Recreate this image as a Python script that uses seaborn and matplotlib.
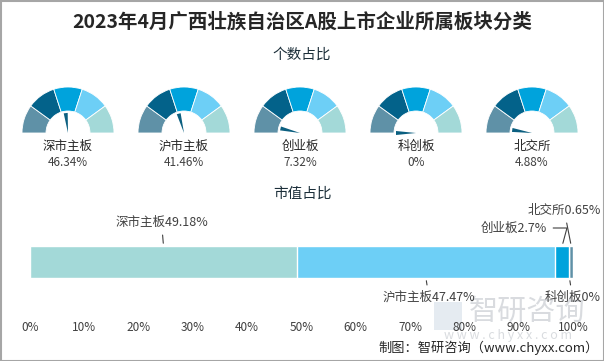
import numpy as np
import pandas as pd
import matplotlib
matplotlib.use('Agg')
import matplotlib.pyplot as plt
from matplotlib.patches import Wedge, Polygon, Rectangle
import seaborn as sns

# data
title = '2023年4月广西壮族自治区A股上市企业所属板块分类'
boards = ['深市主板', '沪市主板', '创业板', '科创板', '北交所']
count_share = [46.34, 41.46, 7.32, 0, 4.88]        # 个数占比 (%)
count_labels = ['46.34%', '41.46%', '7.32%', '0%', '4.88%']
value_share = [49.18, 47.47, 2.7, 0, 0.65]         # 市值占比 (%)
value_labels = ['49.18%', '47.47%', '2.7%', '0%', '0.65%']
ticks = [0, 10, 20, 30, 40, 50, 60, 70, 80, 90, 100]

# gauge band colours, left to right
gauge_colors = ['#5f91a7', '#03628a', '#00a3dc', '#6dcff6', '#a3d9d8']
bar_colors = gauge_colors[::-1]

sns.set_theme(style='white')
plt.rcParams['font.family'] = ['Noto Sans CJK SC', 'DejaVu Sans']

W, H = 604, 361
fig = plt.figure(figsize=(W / 100, H / 100), dpi=100)
fig.patch.set_facecolor('white')

# overlay axes in pixel units (y measured from top)
ax0 = fig.add_axes([0, 0, 1, 1])
ax0.set_xlim(0, W)
ax0.set_ylim(0, H)
ax0.axis('off')
Y = lambda y: H - y

ax0.add_patch(Rectangle((0.5, 0.5), W - 1, H - 1, fill=False, ec='#a6a6a6', lw=1.5))

ax0.text(W / 2, Y(22), title, ha='center', va='center', fontsize=14,
         fontweight='bold', color='#262626')
ax0.text(W / 2, Y(55), '个数占比', ha='center', va='center', fontsize=10.5, color='#1c2f3a')
ax0.text(W / 2, Y(194), '市值占比', ha='center', va='center', fontsize=10.5, color='#1c2f3a')

# gauges
centers = [68, 184, 300, 416, 532]
cy = Y(133)
r_out, band = 46, 24
for cx, name, v, lab in zip(centers, boards, count_share, count_labels):
    for i, c in enumerate(gauge_colors):
        t1 = 180 - i * 36
        ax0.add_patch(Wedge((cx, cy), r_out, t1 - 36, t1, width=band,
                            fc=c, ec='white', lw=0.6))
    a = np.pi * (1 - v / 100)
    L, hw = 20, 2.0
    tip = np.array([cx + L * np.cos(a), cy + L * np.sin(a)])
    perp = np.array([-np.sin(a), np.cos(a)]) * hw
    ax0.add_patch(Polygon([[cx, cy], tip + perp, tip - perp], closed=True,
                          fc='#0b5f80', ec='none'))
    ax0.text(cx, Y(146), name, ha='center', va='center', fontsize=9, color='#262626')
    ax0.text(cx, Y(163), lab, ha='center', va='center', fontsize=8.5, color='#404040')

# watermark (behind everything else)
ax0.text(527, Y(312), '智研咨询', ha='center', va='center', fontsize=21,
         color='#c9cdd2', alpha=0.7, zorder=0)
ax0.text(508, Y(335), 'w w w . c h y x x . c o m', ha='center', va='center',
         fontsize=9, color='#c9cdd2', alpha=0.7, zorder=0)
ax0.add_patch(Rectangle((434, Y(330)), 28, 28, fc='#c6d3e0', ec='none', alpha=0.45, zorder=0))

# stacked bar: draw cumulative sums, longest first
cum = np.cumsum(value_share)
df = pd.DataFrame({'board': boards, 'share': value_share, 'cum': cum,
                   'color': bar_colors})
axb = fig.add_axes([30 / W, Y(278) / H, 543 / W, 32 / H])
for _, row in df.iloc[::-1].iterrows():
    sns.barplot(x=[row['cum']], y=['市值'], orient='h', color=row['color'],
                width=1.0, saturation=1, ax=axb)
axb.set_xlim(0, 100)
axb.set_ylim(0.5, -0.5)
axb.set_ylabel('')
axb.set_yticks([])
axb.set_xticks(ticks)
axb.set_xticklabels([f'{t}%' for t in ticks], fontsize=8.5, color='#404040')
axb.tick_params(axis='x', length=0, pad=31)
for s in axb.spines.values():
    s.set_visible(False)
axb.set_facecolor('none')

# segment labels with leader lines
mids = cum - np.array(value_share) / 2
txt_kw = dict(fontsize=9, color='#404040', textcoords='offset pixels',
              arrowprops=dict(arrowstyle='-', color='#404040', lw=0.8))
axb.annotate(f'{boards[0]}{value_labels[0]}', xy=(mids[0], -0.5), xytext=(-2, 17),
             ha='center', va='bottom', **txt_kw)
axb.annotate(f'{boards[1]}{value_labels[1]}', xy=(mids[1], 0.5), xytext=(3, -13),
             ha='center', va='top', **txt_kw)
axb.annotate(f'{boards[2]}{value_labels[2]}', xy=(mids[2], -0.5), xytext=(-15, 18),
             ha='right', va='center',
             fontsize=9, color='#404040', textcoords='offset pixels',
             arrowprops=dict(arrowstyle='-', color='#404040', lw=0.8,
                             connectionstyle='angle,angleA=0,angleB=75,rad=0'))
axb.annotate(f'{boards[4]}{value_labels[4]}', xy=(mids[4], -0.5), xytext=(-7, 29),
             ha='center', va='bottom', **txt_kw)
axb.annotate(f'{boards[3]}{value_labels[3]}', xy=(cum[3], 0.5), xytext=(3, -13),
             ha='center', va='top', **txt_kw)

ax0.text(599, Y(348), '制图：智研咨询（www.chyxx.com）', ha='right', va='center',
         fontsize=9.5, color='#262626')

fig.savefig('out.png', dpi=100, facecolor='white')
